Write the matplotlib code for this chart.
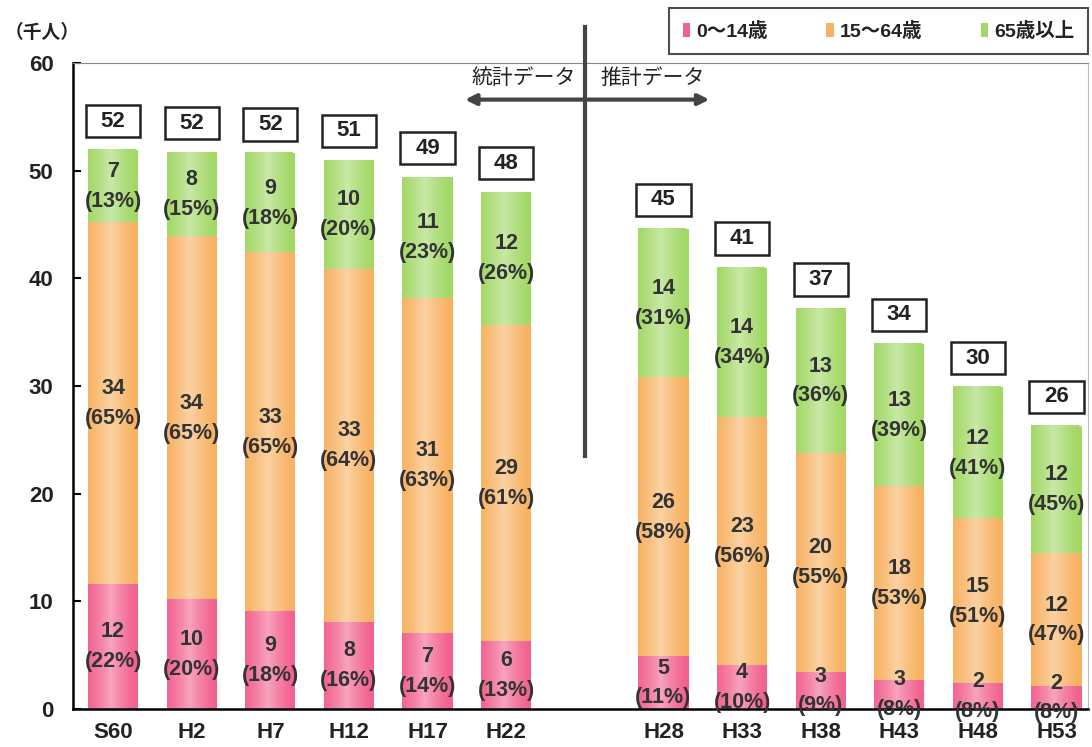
import numpy as np
import matplotlib
matplotlib.use('Agg')
import matplotlib.pyplot as plt
from matplotlib.patches import Patch, Rectangle
from matplotlib.colors import to_rgb

plt.rcParams['font.family'] = ['Liberation Sans', 'Noto Sans CJK JP']

# 年齢3区分別人口（千人）
nendo = ['S60', 'H2', 'H7', 'H12', 'H17', 'H22', 'H28', 'H33', 'H38', 'H43', 'H48', 'H53']
ichi = [0, 1, 2, 3, 4, 5, 7, 8, 9, 10, 11, 12]
nenshou = [11.6, 10.2, 9.1, 8.1, 7.1, 6.3, 4.9, 4.1, 3.4, 2.7, 2.4, 2.1]
seisan = [33.6, 33.7, 33.3, 32.8, 31.1, 29.4, 25.9, 23.0, 20.4, 18.0, 15.3, 12.4]
rounen = [6.7, 7.8, 9.2, 10.1, 11.2, 12.3, 13.8, 13.9, 13.4, 13.2, 12.2, 11.8]
kubun = ['0～14歳', '15～64歳', '65歳以上']
iro = ['#F2628F', '#F7B262', '#A2D866']

goukei = [a + b + c for a, b, c in zip(nenshou, seisan, rounen)]


def shisha(x):
    return int(x + 0.5)


fig = plt.figure(figsize=(10.92, 7.47), dpi=100)
ax = fig.add_axes([73 / 1092, 38 / 747, 1015 / 1092, 646 / 747])

haba = 0.64
soko = np.zeros(len(ichi))
for vals, c in zip([nenshou, seisan, rounen], iro):
    bars = ax.bar(ichi, vals, haba, bottom=soko, color=c, edgecolor='none', zorder=2)
    # 円柱っぽいグラデーション
    base = np.array(to_rgb(c))
    u = np.linspace(-1, 1, 80)
    w = (1 - np.abs(u + 0.1)) ** 1.3 * 0.42
    w = np.clip(w, 0, None)
    img = (base[None, :] * (1 - w[:, None]) + w[:, None])[None, :, :]
    for r in bars:
        x0, y0 = r.get_xy()
        ax.imshow(img, extent=[x0, x0 + r.get_width(), y0, y0 + r.get_height()],
                  aspect='auto', zorder=2.1, interpolation='bilinear')
    for x, v, b, g in zip(ichi, vals, soko, goukei):
        yc = b + v / 2
        ax.annotate(str(shisha(v)), (x, yc), xytext=(0, 10.5), textcoords='offset points',
                    ha='center', va='center', fontsize=15.5, fontweight='bold',
                    color='#333333', zorder=5)
        ax.annotate('(%d%%)' % shisha(v / g * 100), (x, yc), xytext=(0, -11),
                    textcoords='offset points', ha='center', va='center',
                    fontsize=15.5, fontweight='bold', color='#333333', zorder=5)
    soko = soko + np.array(vals)

# 合計の枠
for x, g in zip(ichi, goukei):
    ax.add_patch(Rectangle((x - 0.345, g + 1.2), 0.69, 3.0, facecolor='white',
                           edgecolor='#222222', lw=1.8, zorder=4))
    ax.text(x, g + 2.7, str(shisha(g)), ha='center', va='center', fontsize=16,
            fontweight='bold', color='#222222', zorder=5)

# 統計／推計の区切り
ax.plot([6, 6], [23.5, 63.3], color='#444444', lw=3, clip_on=False, zorder=6)
ax.annotate('', xy=(4.44, 56.6), xytext=(7.62, 56.6),
            arrowprops=dict(arrowstyle='<|-|>', lw=3, color='#444444', mutation_scale=16),
            zorder=6)
ax.text(5.22, 58.6, '統計データ', ha='center', va='center', fontsize=15,
        family='Noto Sans CJK JP', color='#222222')
ax.text(6.86, 58.6, '推計データ', ha='center', va='center', fontsize=15,
        family='Noto Sans CJK JP', color='#222222')

ax.set_xlim(-0.51, 12.4)
ax.set_ylim(0, 60)
ax.set_yticks(range(0, 61, 10))
ax.set_xticks(ichi)
ax.set_xticklabels(nendo)
ax.tick_params(axis='y', direction='in', length=6, width=1.5, pad=14, labelsize=16)
ax.tick_params(axis='x', length=0, pad=9, labelsize=16)
for lab in ax.get_xticklabels() + ax.get_yticklabels():
    lab.set_fontweight('bold')
    lab.set_color('#222222')
ax.spines['left'].set_linewidth(1.8)
ax.spines['bottom'].set_linewidth(1.8)
ax.spines['top'].set_color('#888888')
ax.spines['right'].set_color('#bbbbbb')
ax.spines['top'].set_linewidth(0.8)
ax.spines['right'].set_linewidth(0.8)

fig.text(5 / 1092, 1 - 33 / 747, '（千人）', ha='left', va='center', fontsize=13.5,
         family='Noto Sans CJK JP', fontweight='bold', color='#222222')

hanrei = [Patch(facecolor=c, edgecolor='none') for c in iro]
leg = fig.legend(hanrei, kubun, loc='upper right', bbox_to_anchor=(1088 / 1092, 1 - 8 / 747),
                 ncol=3, frameon=True, fancybox=False, handlelength=0.4, handleheight=0.7,
                 handletextpad=0.3, columnspacing=3.0, borderpad=0.7, borderaxespad=0,
                 prop={'family': ['Liberation Sans', 'Noto Sans CJK JP'], 'weight': 'bold', 'size': 14})
leg.get_frame().set_edgecolor('#222222')
leg.get_frame().set_linewidth(1.5)
for t in leg.get_texts():
    t.set_color('#222222')

fig.savefig('out.png', dpi=100)
